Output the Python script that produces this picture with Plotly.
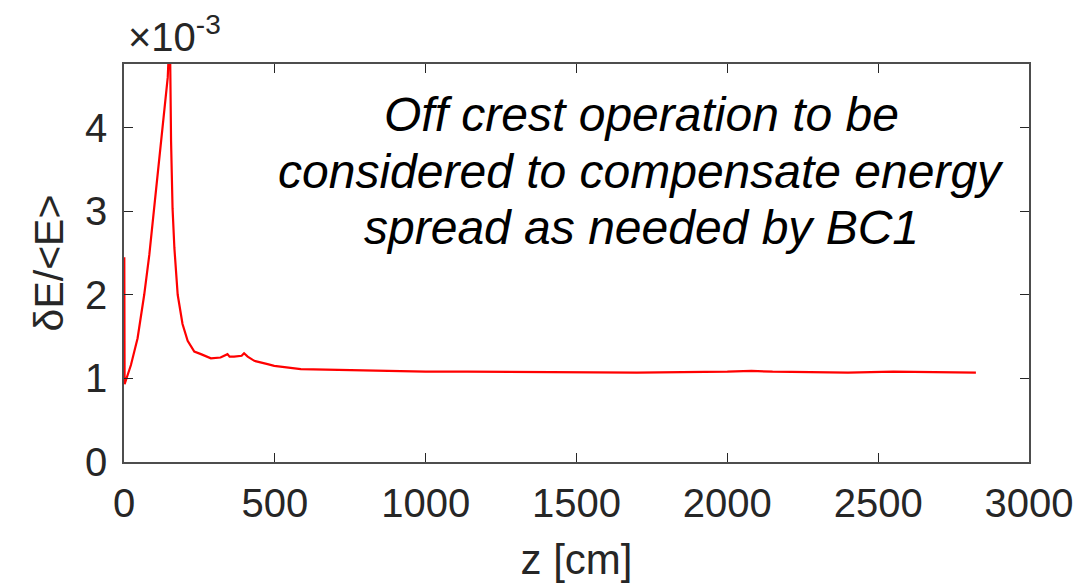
import plotly.graph_objects as go

# z positions [cm] and relative energy spread (units of 1e-3)
z_cm = [1, 2, 23, 45, 67, 84, 100, 114, 128, 145, 152, 156, 161, 167, 178, 194, 211, 233,
        255, 288, 320, 343, 350, 365, 390, 398, 410, 432, 476, 498, 586, 700, 807, 1000,
        1138, 1469, 1700, 2000, 2080, 2150, 2400, 2550, 2700, 2824]
dE_over_E = [2.45, 0.93, 1.16, 1.48, 2.0, 2.48, 3.04, 3.52, 3.96, 4.6, 5.2, 3.84, 3.03, 2.56,
             2.0, 1.65, 1.45, 1.32, 1.29, 1.24, 1.25, 1.29, 1.26, 1.26, 1.27, 1.30, 1.26,
             1.21, 1.17, 1.15, 1.11, 1.10, 1.09, 1.08, 1.08, 1.07, 1.07, 1.08, 1.09, 1.08,
             1.07, 1.08, 1.07, 1.07]

x_ticks = [0, 500, 1000, 1500, 2000, 2500, 3000]
y_ticks = [0, 1, 2, 3, 4]
note_lines = ["Off crest operation to be",
              "considered to compensate energy",
              "spread as needed by BC1"]

FONT = "Liberation Sans, Arial, sans-serif"
AX = "#262626"

# page offset (browser body margin) compensation
DX, DY = 7, 6
W, H = 1092, 584
L = 123 - DX
T = 62 - DY
R = W - (1028 - DX)
B = H - (460 - DY)
pw = W - L - R
ph = H - T - B

fig = go.Figure()
fig.add_trace(go.Scatter(x=z_cm, y=dE_over_E, mode="lines",
                         line=dict(color="#ff0000", width=2.2), showlegend=False))

fig.update_layout(
    width=W, height=H,
    margin=dict(l=L, r=R, t=T, b=B, autoexpand=False),
    paper_bgcolor="white", plot_bgcolor="white",
    font=dict(family=FONT, color=AX, size=40),
    xaxis=dict(range=[0, 3000], tickvals=x_ticks, ticks="inside", ticklen=9,
               tickcolor=AX, showline=True, linecolor="#4d4d4d", linewidth=1.5,
               mirror="ticks", showgrid=False, zeroline=False,
               tickfont=dict(size=40, color=AX), ticklabelstandoff=5,
               title=dict(text="z [cm]", font=dict(size=42, color=AX), standoff=21)),
    yaxis=dict(range=[0, 4.76], tickvals=y_ticks, ticks="inside", ticklen=9,
               tickcolor=AX, showline=True, linecolor="#4d4d4d", linewidth=1.5,
               mirror="ticks", showgrid=False, zeroline=False,
               tickfont=dict(size=40, color=AX), ticklabelstandoff=7,
               title=dict(text="δE/&lt;E&gt;", font=dict(size=41, color=AX), standoff=9)),
)

# exponent label (screen px: left 125, center y 33)
fig.add_annotation(xref="paper", yref="paper",
                   x=(125 - DX - L) / pw, y=1 + (T - (32 - DY)) / ph,
                   xanchor="left", yanchor="middle", showarrow=False,
                   text="×10<sup>-3</sup>", font=dict(size=40, color=AX))

centers_px = [112, 169, 225]
for txt, cy in zip(note_lines, centers_px):
    fig.add_annotation(xref="paper", yref="paper",
                       x=(640 - DX - L) / pw, y=1 - ((cy - DY) - T) / ph,
                       xanchor="center", yanchor="middle", showarrow=False,
                       text=f"<i>{txt}</i>", font=dict(size=48, color="black"))

fig.write_html("out.html")
